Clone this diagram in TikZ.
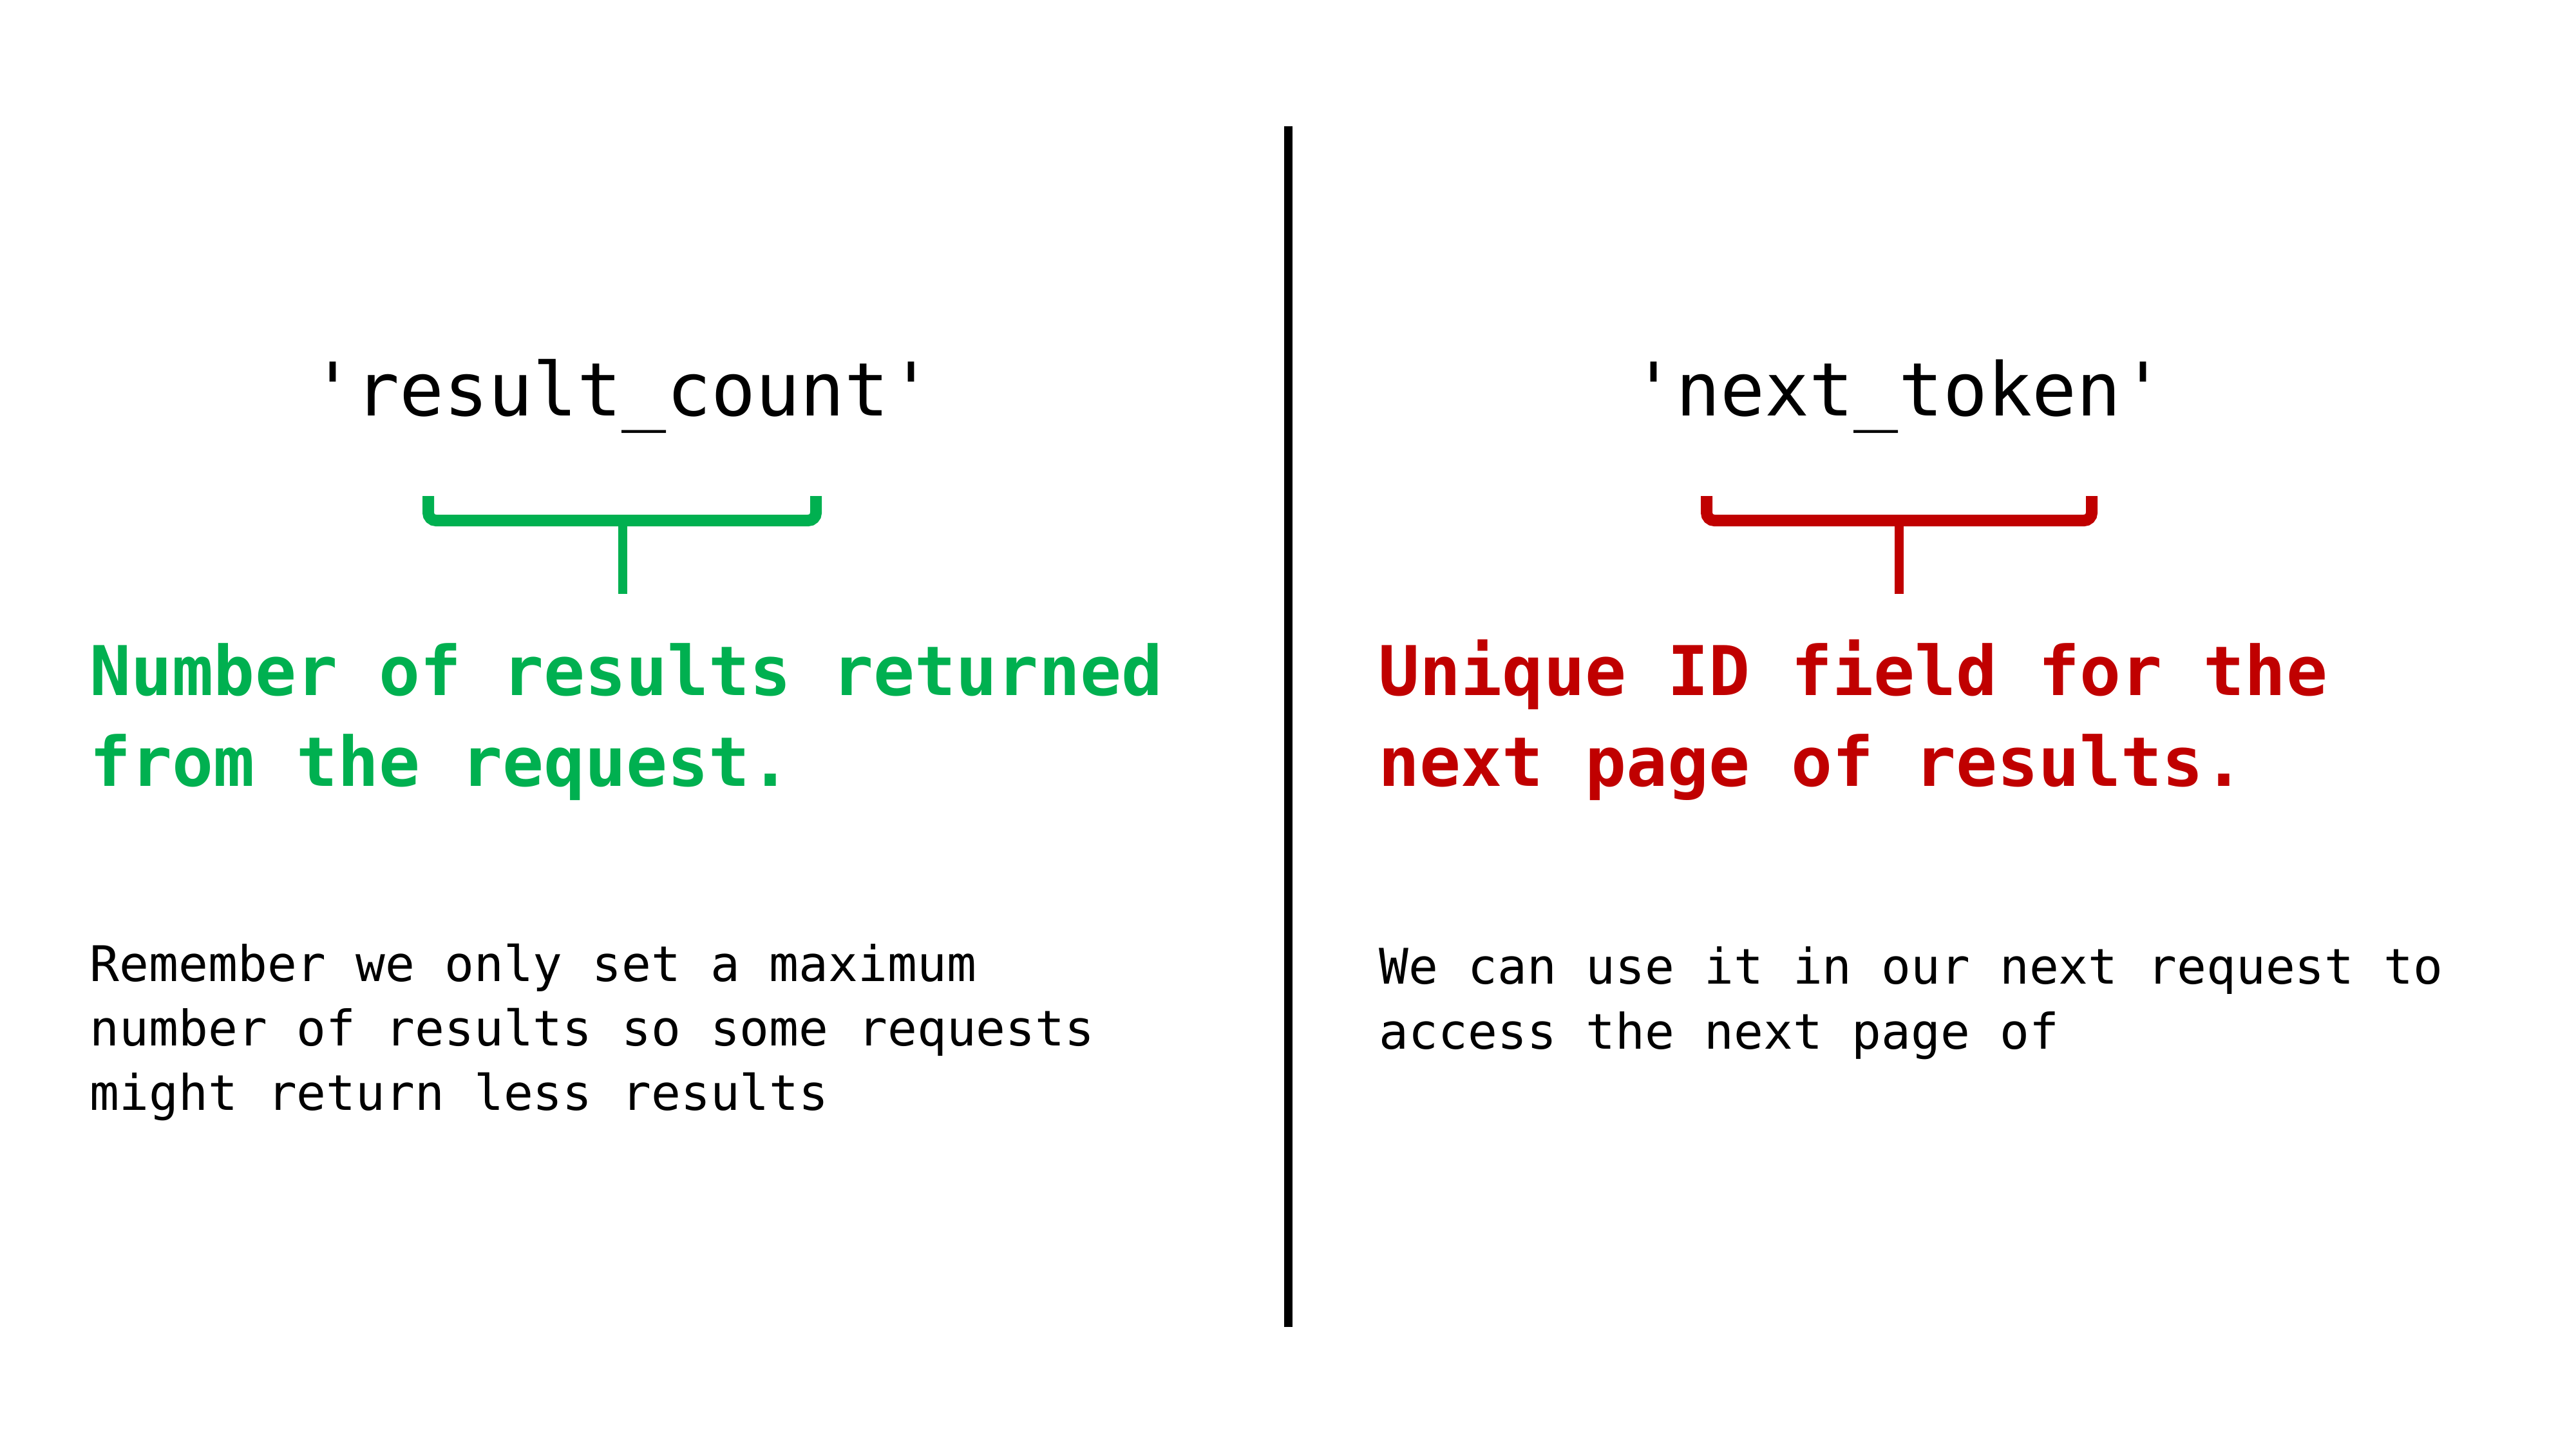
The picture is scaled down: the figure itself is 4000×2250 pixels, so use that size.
\documentclass[tikz,border=0pt]{standalone}
\usepackage{fontspec}
\setmonofont{DejaVu Sans Mono}
\definecolor{okgreen}{HTML}{00B050}
\definecolor{okred}{HTML}{C00000}
\begin{document}
\begin{tikzpicture}[x=0.25pt,y=-0.25pt,
  title/.style={inner sep=0pt,anchor=base,font=\ttfamily\fontsize{28.7}{34}\selectfont},
  headline/.style={inner sep=0pt,anchor=base west,font=\ttfamily\bfseries\fontsize{26.6}{32}\selectfont},
  note/.style={inner sep=0pt,anchor=base west,font=\ttfamily\fontsize{19.05}{23}\selectfont},
  bracebar/.style={line width=4.5pt,rounded corners=3pt},
  bracestem/.style={line width=3.6pt}]
\useasboundingbox (0,0) rectangle (4000,2250);
\fill[white] (0,0) rectangle (4000,2250);
% divider
\coordinate (dtop) at (2000.5,196);
\coordinate (dbot) at (2000.5,2060);
\draw[line width=3.1pt] (dtop) -- (dbot);
% left
\node[title] (t1) at (966,645) {'result\_count'};
\coordinate (g1) at (665,770);
\coordinate (g2) at (1267,770);
\coordinate (gm) at (967,808);
\coordinate (gs) at (967,922);
\draw[okgreen,bracebar] (g1) |- (gm) -| (g2);
\draw[okgreen,bracestem] (gm) -- (gs);
\node[headline,text=okgreen] (h1a) at (139,1079) {Number of results returned};
\node[headline,text=okgreen] (h1b) at (139,1220) {from the request.};
\node[note] (n1a) at (139,1523) {Remember we only set a maximum};
\node[note] (n1b) at (139,1623) {number of results so some requests};
\node[note] (n1c) at (139,1723) {might return less results};
% right
\node[title] (t2) at (2948,645) {'next\_token'};
\coordinate (r1) at (2650,770);
\coordinate (r2) at (3248,770);
\coordinate (rm) at (2949,808);
\coordinate (rs) at (2949,922);
\draw[okred,bracebar] (r1) |- (rm) -| (r2);
\draw[okred,bracestem] (rm) -- (rs);
\node[headline,text=okred] (h2a) at (2140,1079) {Unique ID field for the};
\node[headline,text=okred] (h2b) at (2140,1220) {next page of results.};
\node[note] (n2a) at (2141,1527) {We can use it in our next request to};
\node[note] (n2b) at (2141,1628) {access the next page of};
\end{tikzpicture}
\end{document}
